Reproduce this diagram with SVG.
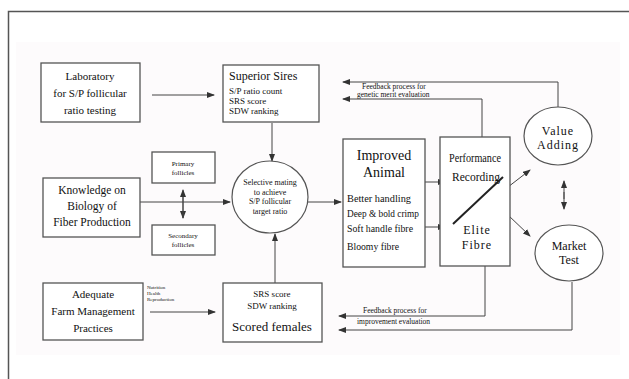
<svg xmlns="http://www.w3.org/2000/svg" width="629" height="379" viewBox="0 0 629 379">
<defs>
<marker id="ah" markerWidth="8" markerHeight="6" refX="7" refY="3" orient="auto" markerUnits="userSpaceOnUse">
<path d="M0,0 L8,3 L0,6 Z" fill="#333"/>
</marker>
<style>
.box{fill:#fff;stroke:#555;stroke-width:1.3}
.ell{fill:#fff;stroke:#555;stroke-width:1.2}
.c{fill:none;stroke:#444;stroke-width:1}
.t{font-family:"Liberation Serif","DejaVu Serif",serif;fill:#111}
.m{text-anchor:middle}
</style>
</defs>
<rect x="0" y="0" width="629" height="379" fill="#fff"/>
<rect x="16" y="42" width="604" height="313" fill="#fdfbfc"/>
<path d="M8.5,379 L8.5,11.5 L629,11.5" fill="none" stroke="#555" stroke-width="1.5"/>

<g id="connectors">
<line class="c" x1="152" y1="95" x2="214" y2="95" marker-end="url(#ah)"/>
<line class="c" x1="140" y1="202" x2="230" y2="202" marker-end="url(#ah)"/>
<line class="c" x1="183" y1="192" x2="183" y2="218" marker-end="url(#ah)"/>
<line class="c" x1="183" y1="218" x2="183" y2="190" marker-end="url(#ah)"/>
<line class="c" x1="272" y1="123" x2="272" y2="161" marker-end="url(#ah)"/>
<line class="c" x1="275" y1="283" x2="275" y2="234" marker-end="url(#ah)"/>
<line class="c" x1="308" y1="202" x2="341" y2="202" marker-end="url(#ah)"/>
<line class="c" x1="410" y1="182" x2="445" y2="182" marker-end="url(#ah)"/>
<line class="c" x1="410" y1="227" x2="445" y2="227" marker-end="url(#ah)"/>
<line class="c" x1="508" y1="187" x2="530" y2="170" marker-end="url(#ah)"/>
<line class="c" x1="508" y1="215" x2="530" y2="236" marker-end="url(#ah)"/>
<line class="c" x1="564" y1="192" x2="564" y2="209" marker-end="url(#ah)"/>
<line class="c" x1="564" y1="199" x2="564" y2="181" marker-end="url(#ah)"/>
<path class="c" d="M558,107 L558,82 L343,82" marker-end="url(#ah)"/>
<path class="c" d="M482,137 L482,99 L343,99" marker-end="url(#ah)"/>
<path class="c" d="M485,266 L485,316 L339,316" marker-end="url(#ah)"/>
<path class="c" d="M572,282 L572,330 L339,330" marker-end="url(#ah)"/>
<line class="c" x1="150" y1="312" x2="215" y2="312" marker-end="url(#ah)"/>
<text class="t" x="362" y="89" font-size="7.5">Feedback process for</text>
<text class="t" x="357" y="97" font-size="7.5">genetic merit evaluation</text>
<text class="t" x="363" y="313" font-size="7.5">Feedback process for</text>
<text class="t" x="357" y="324" font-size="7.5">improvement evaluation</text>
<text class="t" x="147" y="289" font-size="5">Nutrition</text>
<text class="t" x="147" y="295" font-size="5">Health</text>
<text class="t" x="147" y="301" font-size="5">Reproduction</text>
</g>

<g id="lab">
<rect class="box" x="41" y="63" width="99" height="59"/>
<text class="t m" x="90" y="80" font-size="11">Laboratory</text>
<text class="t m" x="90" y="97" font-size="11">for S/P follicular</text>
<text class="t m" x="90" y="114" font-size="11">ratio testing</text>
</g>

<g id="sires">
<rect class="box" x="223" y="65" width="96" height="57"/>
<text class="t" x="229" y="80" font-size="12">Superior Sires</text>
<text class="t" x="229" y="94" font-size="9">S/P ratio count</text>
<text class="t" x="229" y="104" font-size="9">SRS score</text>
<text class="t" x="229" y="114" font-size="9">SDW ranking</text>
</g>

<g id="knowledge">
<rect class="box" x="43" y="178" width="97" height="59"/>
<text class="t m" x="92" y="194" font-size="11.5">Knowledge on</text>
<text class="t m" x="92" y="210" font-size="11.5">Biology of</text>
<text class="t m" x="92" y="226" font-size="11.5">Fiber Production</text>
</g>

<g id="primary">
<rect class="box" x="152" y="152" width="63" height="31"/>
<text class="t m" x="183" y="166" font-size="7">Primary</text>
<text class="t m" x="183" y="175" font-size="7">follicles</text>
</g>

<g id="secondary">
<rect class="box" x="152" y="225" width="63" height="30"/>
<text class="t m" x="183" y="238" font-size="7">Secondary</text>
<text class="t m" x="183" y="247" font-size="7">follicles</text>
</g>

<g id="selective">
<ellipse class="ell" cx="270" cy="197" rx="38" ry="36"/>
<text class="t m" x="270" y="185" font-size="8">Selective mating</text>
<text class="t m" x="270" y="195" font-size="8">to achieve</text>
<text class="t m" x="270" y="204" font-size="8">S/P follicular</text>
<text class="t m" x="270" y="214" font-size="8">target ratio</text>
</g>

<g id="improved">
<rect class="box" x="343" y="139" width="82" height="128"/>
<text class="t m" x="384" y="160" font-size="14">Improved</text>
<text class="t m" x="384" y="177" font-size="14">Animal</text>
<text class="t" x="347" y="202" font-size="10" textLength="64" lengthAdjust="spacingAndGlyphs">Better handling</text>
<text class="t" x="347" y="217" font-size="10" textLength="72" lengthAdjust="spacingAndGlyphs">Deep &amp; bold crimp</text>
<text class="t" x="347" y="232" font-size="10" textLength="66" lengthAdjust="spacingAndGlyphs">Soft handle fibre</text>
<text class="t" x="347" y="250" font-size="10" textLength="52" lengthAdjust="spacingAndGlyphs">Bloomy fibre</text>
</g>

<g id="performance">
<rect class="box" x="440" y="137" width="70" height="129"/>
<text class="t m" x="475" y="162" font-size="12" textLength="52" lengthAdjust="spacingAndGlyphs">Performance</text>
<text class="t m" x="476" y="181" font-size="12" textLength="48" lengthAdjust="spacingAndGlyphs">Recording</text>
<line x1="503" y1="177" x2="453" y2="224" stroke="#222" stroke-width="2"/>
<text class="t m" x="477" y="234" font-size="12" letter-spacing="1">Elite</text>
<text class="t m" x="477" y="249" font-size="12" letter-spacing="1">Fibre</text>
</g>

<g id="value">
<ellipse class="ell" cx="558" cy="136" rx="34" ry="29"/>
<text class="t m" x="558" y="135" font-size="12" letter-spacing="1">Value</text>
<text class="t m" x="558" y="149" font-size="12" letter-spacing="1">Adding</text>
</g>

<g id="market">
<ellipse class="ell" cx="569" cy="253" rx="34" ry="28"/>
<text class="t m" x="569" y="250" font-size="12">Market</text>
<text class="t m" x="569" y="264" font-size="12">Test</text>
</g>

<g id="scored">
<rect class="box" x="223" y="283" width="99" height="59"/>
<text class="t m" x="272" y="297" font-size="9">SRS score</text>
<text class="t m" x="272" y="309" font-size="9">SDW ranking</text>
<text class="t m" x="272" y="331" font-size="13">Scored females</text>
</g>

<g id="farm">
<rect class="box" x="43" y="283" width="100" height="57"/>
<text class="t m" x="93" y="298" font-size="11">Adequate</text>
<text class="t m" x="93" y="315" font-size="11">Farm Management</text>
<text class="t m" x="93" y="332" font-size="11">Practices</text>
</g>
</svg>
